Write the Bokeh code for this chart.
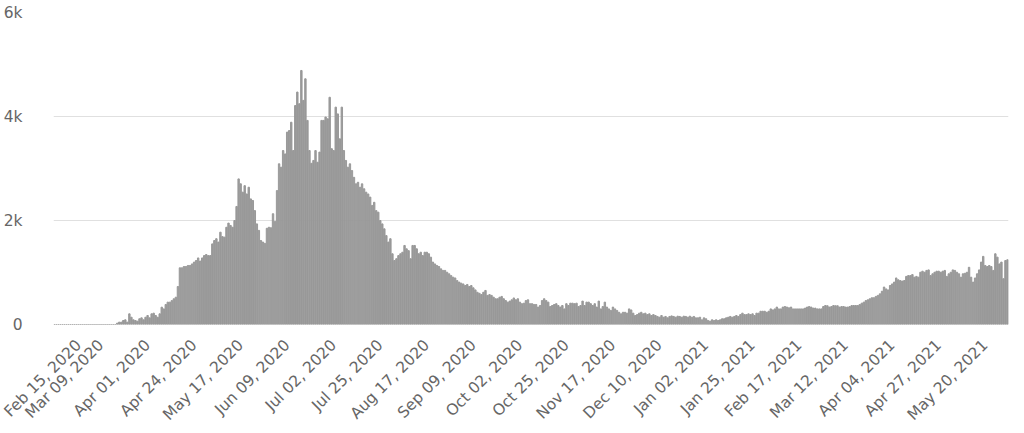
import math
import pandas as pd
from bokeh.plotting import figure
from bokeh.models import Range1d, FixedTicker, ColumnDataSource
from bokeh.embed import file_html
from bokeh.resources import INLINE

start_date = "2020-02-15"

# daily values, Feb 15, 2020 onward
values_feb_mar = [0, 0, 0, 0, 0, 0, 0, 0, 0, 0, 0, 0, 0, 0, 0, 0, 0, 0, 0, 0,
                  0, 0, 0, 0, 0, 0, 0, 0, 0, 0, 0,
                  25, 45, 45, 77, 90, 45, 205, 140, 90, 77, 64, 110, 128, 90, 140,
                  173, 128, 205, 218, 173, 140, 205, 333, 300, 385, 430, 430, 460,
                  495, 525, 730]
values_wave1 = [1090, 1090, 1115, 1115, 1135, 1135, 1165, 1200, 1230, 1280, 1220,
                1280, 1325, 1345, 1325, 1325, 1550, 1615, 1650, 1585, 1775, 1690,
                1680, 1870, 1950, 1905, 1870, 2000, 2270, 2800,
                2705, 2545, 2670, 2510, 2640, 2415, 2385, 2190, 1935, 1810, 1615,
                1585, 1560, 1850, 1870, 1860, 2130, 1980, 2575, 3090, 3025, 3345,
                3280, 3700, 3730, 3890, 3345, 4210, 4470, 4245, 4885, 4310, 4725,
                3925, 3345, 3100, 3155, 3345, 3120, 3315, 3925, 3925, 3990, 3955,
                4370, 3380, 3345, 4180, 4050, 3570, 4180, 3345, 3155, 3025, 3090,
                2960, 2830, 2705, 2735, 2640, 2705, 2610, 2545, 2510, 2450]
values_decline = [2290, 2350, 2190, 2160, 2000, 1935, 1840, 1710, 1585, 1650, 1360,
                  1230, 1265, 1325, 1360, 1390, 1520, 1455, 1420, 1265, 1520, 1520,
                  1455, 1360, 1390, 1325, 1390, 1390, 1360, 1295, 1200, 1165, 1135,
                  1115, 1070, 1040, 1040, 1005, 975, 940, 910, 895, 845, 815, 795,
                  780, 750, 770, 730, 750, 705, 665, 620, 600, 575, 620, 655, 560,
                  575, 560, 525, 495, 495, 525, 540, 495, 460, 430, 450, 475, 510,
                  475, 495, 430, 400, 410, 460, 475, 400, 400, 385, 385, 335, 365,
                  460, 495, 460, 430]
values_low = [345, 365, 385, 400, 365, 335, 365, 300, 400, 365, 410, 410, 400, 410,
              345, 365, 450, 365, 430, 430, 400, 365, 400, 335, 450, 300, 345, 430,
              335, 300, 270, 335, 300, 270, 235, 205, 235, 235, 218, 300, 280, 218,
              173, 190, 218, 235, 205, 218, 190, 205, 173, 190, 173, 155, 140, 173,
              140, 155, 128, 155, 165, 155, 140, 160, 155, 140, 160, 155, 140, 160,
              140, 155, 128, 128, 140, 90, 128, 110, 77, 64, 90, 77, 90, 77, 90,
              110, 110, 128, 140, 155, 140, 155, 173, 155, 190, 218, 190, 190, 205,
              190, 205, 173, 218, 218, 255, 255, 255, 235, 255, 300, 280, 300, 335]
values_2021 = [300, 300, 335, 345, 335, 320, 335, 300, 300, 300, 300, 300, 300,
               315, 335, 345, 335, 315, 315, 300, 300, 300, 345, 365, 360, 335, 345,
               365, 360, 360, 335, 345, 345, 335, 335, 345, 365, 365, 365, 365, 385,
               410, 430, 460, 475, 495, 515, 515, 540, 560, 590, 640, 720, 685, 665,
               750, 780, 815, 895, 860, 845, 835, 845, 925, 940, 940, 960, 910, 925,
               910, 1005, 1025, 1005, 1040, 1050, 940, 975, 1005, 1025, 1025, 1005,
               1025, 1040, 925, 975, 1005, 1050, 1040, 1005, 975, 910, 975, 985,
               1005, 1100, 910, 815, 895, 975, 1050, 1200, 1310, 1135, 1115, 1135,
               1115, 1040, 1360, 1295, 1165, 1200, 880, 1230, 1245]

values = values_feb_mar + values_wave1 + values_decline + values_low + values_2021

tick_labels = ["Feb 15, 2020", "Mar 09, 2020", "Apr 01, 2020", "Apr 24, 2020",
               "May 17, 2020", "Jun 09, 2020", "Jul 02, 2020", "Jul 25, 2020",
               "Aug 17, 2020", "Sep 09, 2020", "Oct 02, 2020", "Oct 25, 2020",
               "Nov 17, 2020", "Dec 10, 2020", "Jan 02, 2021", "Jan 25, 2021",
               "Feb 17, 2021", "Mar 12, 2021", "Apr 04, 2021", "Apr 27, 2021",
               "May 20, 2021"]
y_ticks = [0, 2000, 4000, 6000]
y_tick_labels = ["0", "2k", "4k", "6k"]

n = len(values)
dates = pd.date_range(start_date, periods=n, freq="D")
idx = list(range(n))
src = ColumnDataSource(dict(x=idx, v=values, d=[dt.strftime("%b %d, %Y") for dt in dates]))

# tick positions: every 23rd day
date_pos = {dt.strftime("%b %d, %Y"): i for i, dt in enumerate(dates)}
x_ticks = [date_pos[lbl] for lbl in tick_labels]

p = figure(width=1024, height=433, output_backend="svg", toolbar_location=None,
           x_range=Range1d(-0.5, n - 0.5), y_range=Range1d(0, 6000),
           min_border_left=48, min_border_right=16, min_border_top=12,
           min_border_bottom=109)
p.outline_line_color = None
p.background_fill_color = "white"

p.vbar(x="x", top="v", width=0.7, color="#999999", source=src)

p.xgrid.visible = False
p.ygrid.grid_line_color = "#e0e0e0"
p.ygrid.grid_line_width = 1

FONT = "DejaVu Sans"

p.yaxis.ticker = FixedTicker(ticks=y_ticks)
p.yaxis.major_label_overrides = dict(zip(y_ticks, y_tick_labels))
p.yaxis.axis_line_color = None
p.yaxis.major_tick_line_color = None
p.yaxis.minor_tick_line_color = None
p.yaxis.major_label_text_font = FONT
p.yaxis.major_label_text_font_size = "15.5px"
p.yaxis.major_label_text_color = "#666666"
p.yaxis.major_label_standoff = 25

p.xaxis.ticker = FixedTicker(ticks=x_ticks)
p.xaxis.major_label_overrides = dict(zip(x_ticks, tick_labels))
p.xaxis.major_label_orientation = math.pi / 4
p.xaxis.axis_line_color = None
p.xaxis.major_tick_line_color = None
p.xaxis.minor_tick_line_color = None
p.xaxis.major_label_text_font = FONT
p.xaxis.major_label_text_font_size = "15.5px"
p.xaxis.major_label_text_color = "#666666"
p.xaxis.major_label_standoff = 12

open("out.html", "w").write(file_html(p, INLINE))
